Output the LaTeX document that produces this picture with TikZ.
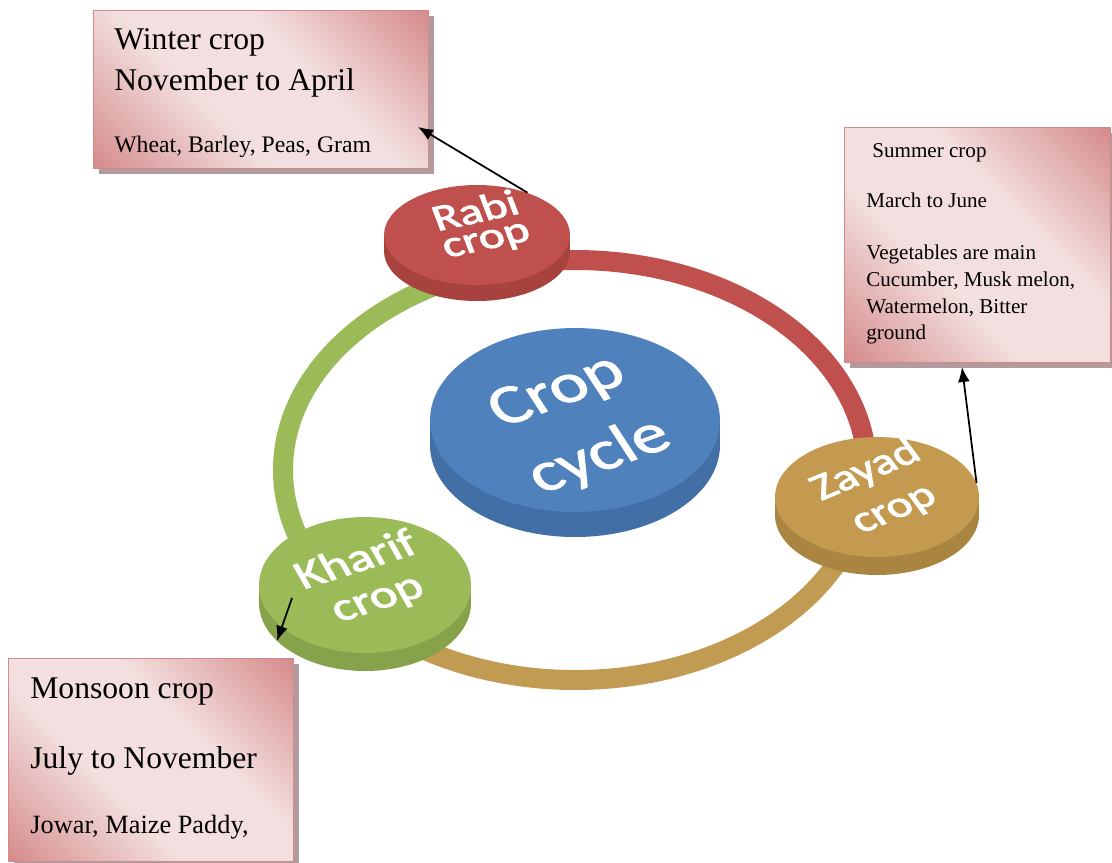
\documentclass[tikz,border=0pt]{standalone}
\usepackage{fontspec}
\setmainfont{Liberation Serif}
\newfontfamily\discfont{Carlito}
\usetikzlibrary{shapes.geometric,shadows,arrows.meta}

\definecolor{boxdark}{HTML}{D68C8C}
\definecolor{boxlight}{HTML}{F3DFDF}
\definecolor{boxedge}{HTML}{CF8B8B}
\definecolor{boxshadow}{HTML}{B39A9D}
\definecolor{rabitop}{HTML}{C0504D}
\definecolor{rabiside}{HTML}{A8423F}
\definecolor{cycletop}{HTML}{4F81BD}
\definecolor{cycleside}{HTML}{416FA6}
\definecolor{zayadtop}{HTML}{C39A4F}
\definecolor{zayadside}{HTML}{A98541}
\definecolor{khariftop}{HTML}{9BBB59}
\definecolor{kharifside}{HTML}{86A34B}
\definecolor{ringred}{HTML}{C0504D}
\definecolor{ringgreen}{HTML}{9BBB59}
\definecolor{ringtan}{HTML}{C29B53}

% white letters with a grey rim
\newcommand\rimtext{\special{pdf:literal direct 0.4 0.4 0.4 RG 0.6 w 2 Tr}}

\pgfdeclarehorizontalshading{pinkbox}{100bp}{color(0bp)=(boxdark); color(15bp)=(boxdark); color(40bp)=(boxlight); color(60bp)=(boxlight); color(85bp)=(boxdark); color(100bp)=(boxdark)}

\tikzset{
  ring/.style={line width=0.4cm},
  disc/.style={ellipse, inner sep=0pt},
  disctext/.style={inner sep=0pt, text=white, align=center, yscale=0.75},
  notebox/.style={draw=boxedge, line width=0.7pt, shade, shading=pinkbox, shading angle=45,
    anchor=north west, inner sep=0pt,
    drop shadow={shadow xshift=0.11cm, shadow yshift=-0.11cm, fill=boxshadow, opacity=1}},
  bigtxt/.style={anchor=base west, inner sep=0pt, font=\fontsize{18}{21}\selectfont},
  midtxt/.style={anchor=base west, inner sep=0pt, font=\fontsize{13.5}{16}\selectfont},
  smalltxt/.style={anchor=base west, inner sep=0pt, font=\fontsize{12}{14}\selectfont},
  pointer/.style={line width=1pt, -{Latex[length=3mm,width=2.4mm]}}
}

\begin{document}
\begin{tikzpicture}[x=0.02cm, y=-0.02cm]
\useasboundingbox (0,0) rectangle (1112,862);

% the ring
\coordinate (hub) at (575,470);
\draw[ring, ringgreen] (hub) ++(134:292 and 210) arc (134:254:292 and 210);
\draw[ring, ringred] (hub) ++(250:292 and 210) arc (250:364:292 and 210);
\draw[ring, ringtan] (hub) ++(358:292 and 210) arc (358:496:292 and 210);

% discs: name/x/y/rx/ry/thickness/colour
\foreach \n/\x/\y/\rx/\ry/\t/\c in {rabi/477/235/93/50/16/rabi,
    cycle/575/420/145/92/25/cycle,
    zayad/877/497/102/60/18/zayad,
    kharif/365/585/106/68/18/kharif}
{
  \fill[\c side] (\x-\rx,\y) rectangle (\x+\rx,\y+\t);
  \fill[\c side] (\x,\y+\t) ellipse ({\rx} and {\ry});
  \node[disc, fill=\c top, minimum width=\rx*0.04cm, minimum height=\ry*0.04cm] (\n) at (\x,\y) {};
}

% disc labels, lying on the disc tops: name/x/y/angle/size/skip/text
\foreach \n/\x/\y/\a/\s/\b/\t in {rabitxt/481/226/16/28/21/Rabi\\crop,
    cycletxt/579/425/26/42/55/Crop\\cycle,
    zayadtxt/880/490/29/28/33/Zayad\\crop,
    khariftxt/367/580/23/30/31/Kharif\\crop}
{
  \node[disctext, rotate=\a, font=\discfont\fontsize{\s}{\b}\selectfont\rimtext] (\n) at (\x,\y) {\t};
}

% notes
\node[notebox, minimum width=6.7cm, minimum height=3.16cm] (winter) at (93,10) {};
\node[bigtxt] (w1) at (114,50) {Winter crop};
\node[bigtxt] (w2) at (114,90) {November to April};
\node[midtxt] (w3) at (114,152) {Wheat, Barley, Peas, Gram};

\node[notebox, minimum width=5.32cm, minimum height=4.7cm] (summer) at (844,127) {};
\node[smalltxt] (s1) at (872,157) {Summer crop};
\node[smalltxt] (s2) at (866,207) {March to June};
\node[smalltxt] (s3) at (866,259) {Vegetables are main};
\node[smalltxt] (s4) at (866,286) {Cucumber, Musk melon,};
\node[smalltxt] (s5) at (866,313) {Watermelon, Bitter};
\node[smalltxt] (s6) at (866,339) {ground};

\node[notebox, minimum width=5.7cm, minimum height=4.06cm] (monsoon) at (8,658) {};
\node[bigtxt] (m1) at (30,698) {Monsoon crop};
\node[bigtxt] (m2) at (30,768) {July to November};
\node[midtxt, font=\fontsize{15}{18}\selectfont] (m3) at (30,833) {Jowar, Maize Paddy,};

% pointers
\coordinate (wintertip) at (418,127);
\coordinate (summertip) at (962,367);
\coordinate (kharifmark) at (292,598);
\coordinate (monsoontip) at (277,641);
\draw[pointer] (rabi.40) -- (wintertip);
\draw[pointer] (zayad.8) -- (summertip);
\draw[pointer] (kharifmark) -- (monsoontip);
\end{tikzpicture}
\end{document}
